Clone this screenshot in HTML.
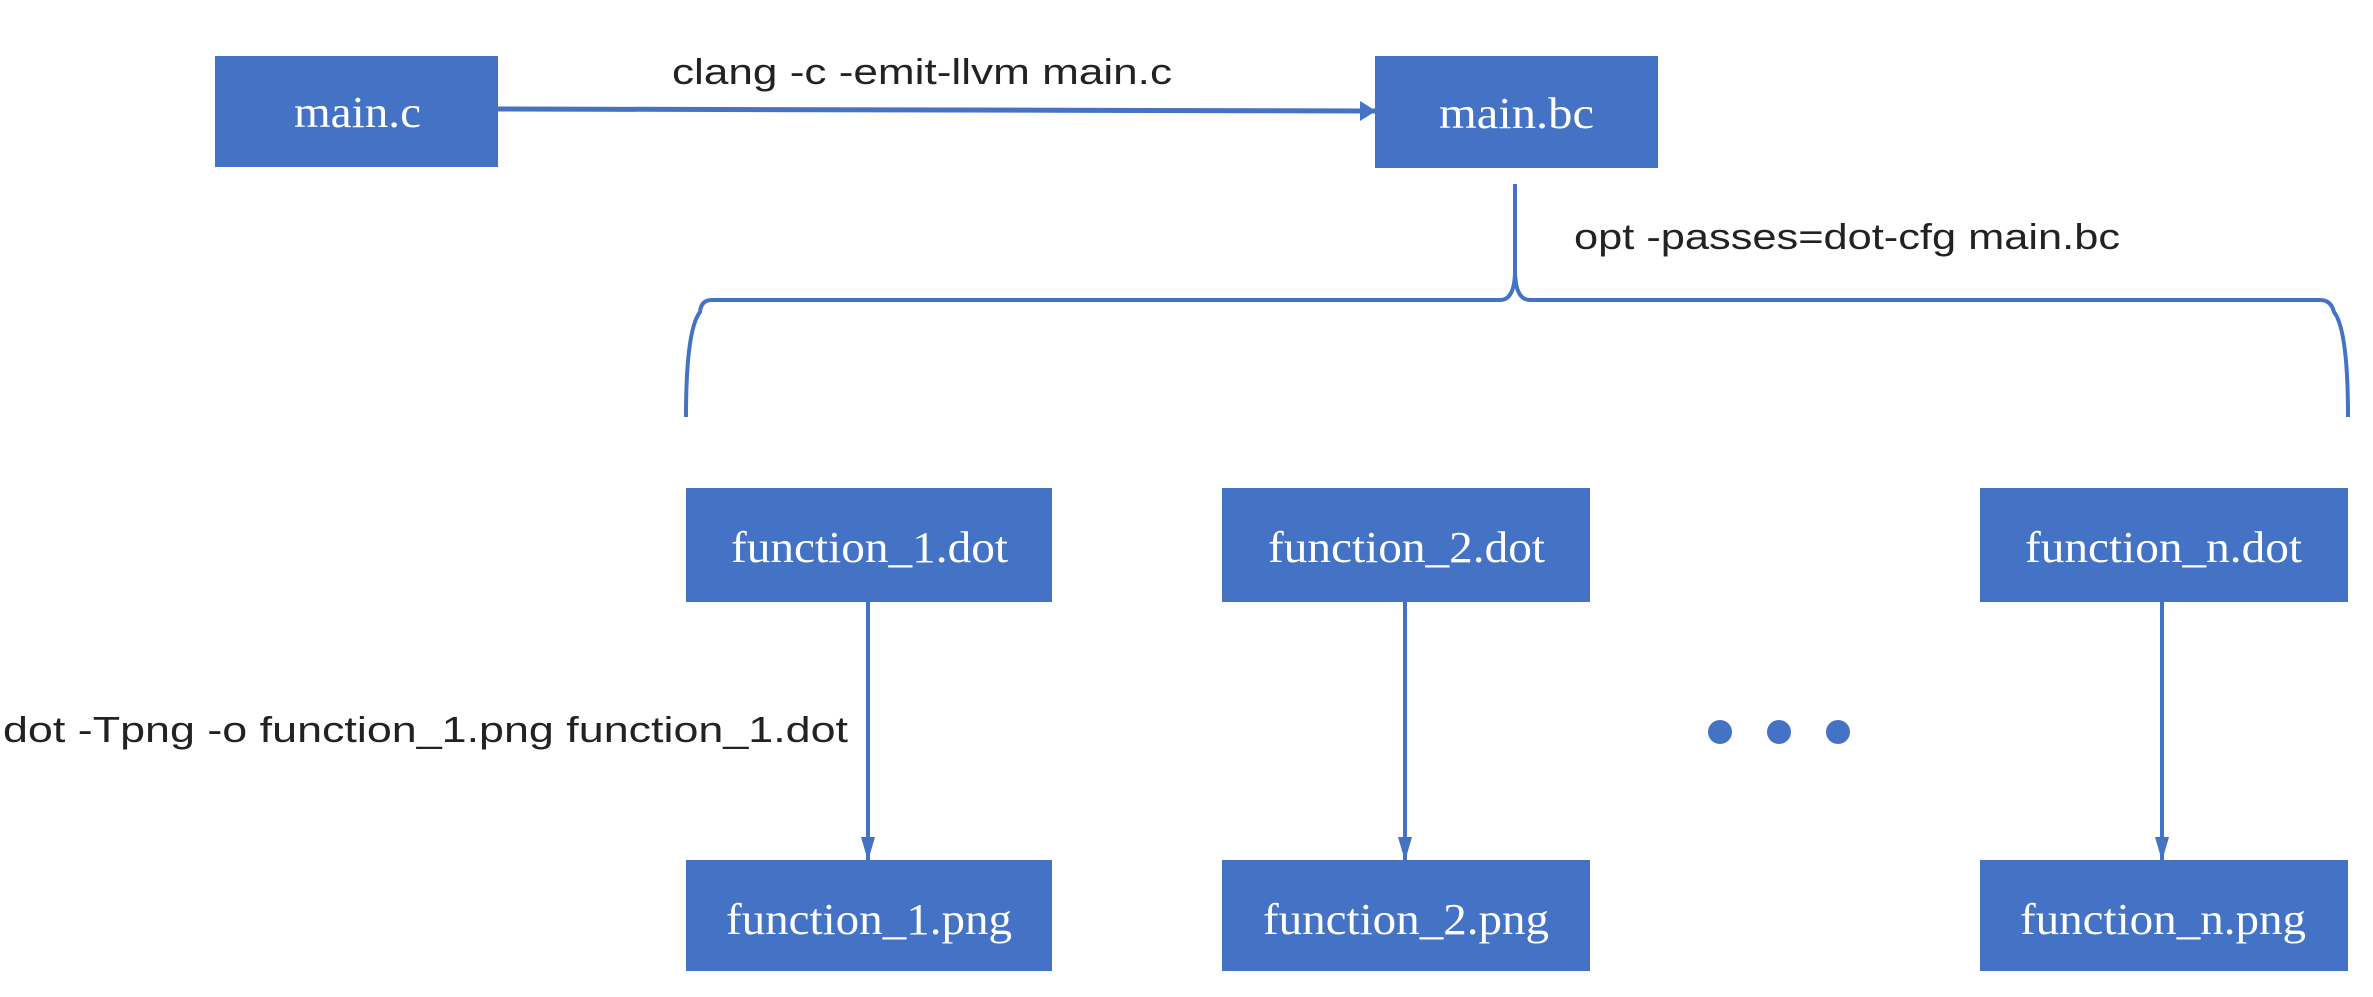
<!DOCTYPE html>
<html><head><meta charset="utf-8"><style>html,body{margin:0;padding:0;background:#fff;}svg{display:block}</style></head>
<body>
<svg width="2373" height="997" viewBox="0 0 2373 997" xmlns="http://www.w3.org/2000/svg">
<defs>
<marker id="ah" markerWidth="24" markerHeight="14" refX="23" refY="7" orient="auto" markerUnits="userSpaceOnUse">
<path d="M0,0 L24,7 L0,14 Z" fill="#4472C4"/>
</marker>
<marker id="ah2" markerWidth="16" markerHeight="20" refX="15" refY="10" orient="auto" markerUnits="userSpaceOnUse">
<path d="M0,0 L16,10 L0,20 Z" fill="#4472C4"/>
</marker>
</defs>
<g fill="#4472C4">
<rect x="215" y="56" width="283" height="111"/>
<rect x="1375" y="56" width="283" height="112"/>
<rect x="686" y="488" width="366" height="114"/>
<rect x="1222" y="488" width="368" height="114"/>
<rect x="1980" y="488" width="368" height="114"/>
<rect x="686" y="860" width="366" height="111"/>
<rect x="1222" y="860" width="368" height="111"/>
<rect x="1980" y="860" width="368" height="111"/>
<circle cx="1720" cy="732" r="12"/>
<circle cx="1779" cy="732" r="12"/>
<circle cx="1838" cy="732" r="12"/>
</g>
<line x1="498" y1="109" x2="1375" y2="111" stroke="#4472C4" stroke-width="5" marker-end="url(#ah2)"/>
<path d="M1515,184 L1515,270 Q1515,300 1500,300 L712,300 Q701,300 700,312 Q686,330 686,417" fill="none" stroke="#4472C4" stroke-width="4"/>
<path d="M1515,270 Q1515,300 1530,300 L2320,300 Q2331,300 2334,312 Q2348,330 2348,417" fill="none" stroke="#4472C4" stroke-width="4"/>
<g stroke="#4472C4" stroke-width="4">
<line x1="868" y1="602" x2="868" y2="860" marker-end="url(#ah)"/>
<line x1="1405" y1="602" x2="1405" y2="860" marker-end="url(#ah)"/>
<line x1="2162" y1="602" x2="2162" y2="860" marker-end="url(#ah)"/>
</g>
<g font-family="Liberation Sans, sans-serif" font-size="36" fill="#222">
<text x="672" y="84" textLength="500" lengthAdjust="spacingAndGlyphs">clang -c -emit-llvm main.c</text>
<text x="1574" y="249" textLength="546" lengthAdjust="spacingAndGlyphs">opt -passes=dot-cfg main.bc</text>
<text x="3" y="742" textLength="845" lengthAdjust="spacingAndGlyphs">dot -Tpng -o function_1.png function_1.dot</text>
</g>
<g font-family="Liberation Serif, serif" font-size="44" fill="#fff">
<text x="294" y="127" textLength="127" lengthAdjust="spacingAndGlyphs">main.c</text>
<text x="1439" y="128" textLength="155" lengthAdjust="spacingAndGlyphs">main.bc</text>
<text x="731" y="562" textLength="277" lengthAdjust="spacingAndGlyphs">function_1.dot</text>
<text x="1268" y="562" textLength="277" lengthAdjust="spacingAndGlyphs">function_2.dot</text>
<text x="2025" y="562" textLength="277" lengthAdjust="spacingAndGlyphs">function_n.dot</text>
<text x="726" y="934" textLength="286" lengthAdjust="spacingAndGlyphs">function_1.png</text>
<text x="1263" y="934" textLength="286" lengthAdjust="spacingAndGlyphs">function_2.png</text>
<text x="2020" y="934" textLength="286" lengthAdjust="spacingAndGlyphs">function_n.png</text>
</g>
</svg>
</body></html>
